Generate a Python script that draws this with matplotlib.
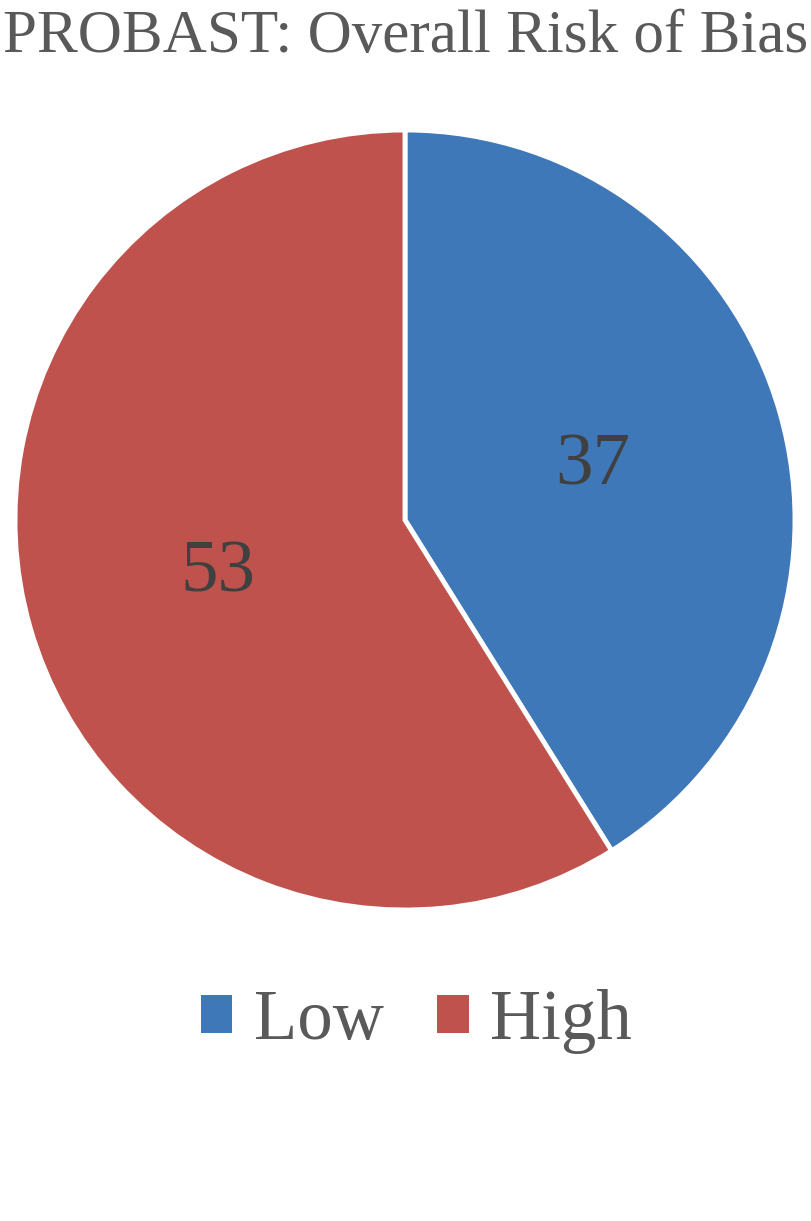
import matplotlib
matplotlib.use("Agg")
import matplotlib.pyplot as plt
from matplotlib.patches import Patch

# data
labels = ["Low", "High"]
counts = [37, 53]
colors = ["#3F78B8", "#C0524D"]
title = "PROBAST: Overall Risk of Bias"

plt.rcParams['font.family'] = ['Liberation Serif', 'DejaVu Serif']

W, H = 812, 1221
fig = plt.figure(figsize=(W / 100, H / 100), dpi=100)

# pie axes: square box, centre ~ (405, 520) px, radius ~390 px
ax = fig.add_axes([15 / W, (H - 910) / H, 780 / W, 780 / H])
total = sum(counts)
wedges, texts, autotexts = ax.pie(
    counts, colors=colors, startangle=90, counterclock=False,
    autopct=lambda p: f"{round(p * total / 100):d}", pctdistance=0.5,
    wedgeprops=dict(edgecolor="white", linewidth=3.5),
    textprops=dict(fontsize=54, color="#404040"))
ax.set_xlim(-1, 1)
ax.set_ylim(-1, 1)
ax.set_aspect("equal")
ax.axis("off")

fig.text(0.5, 1 - 37 / H, title, ha="center", va="center",
         fontsize=44, color="#595959")

handles = [Patch(facecolor=c, edgecolor="none") for c in colors]
fig.legend(handles, labels, loc="center", bbox_to_anchor=(416 / W, 1 - 1022 / H),
           ncol=2, frameon=False, fontsize=51, labelcolor="#595959",
           handlelength=0.45, handleheight=0.45, handletextpad=0.3,
           columnspacing=0.75)

fig.savefig("out.png", dpi=100, facecolor="white")
